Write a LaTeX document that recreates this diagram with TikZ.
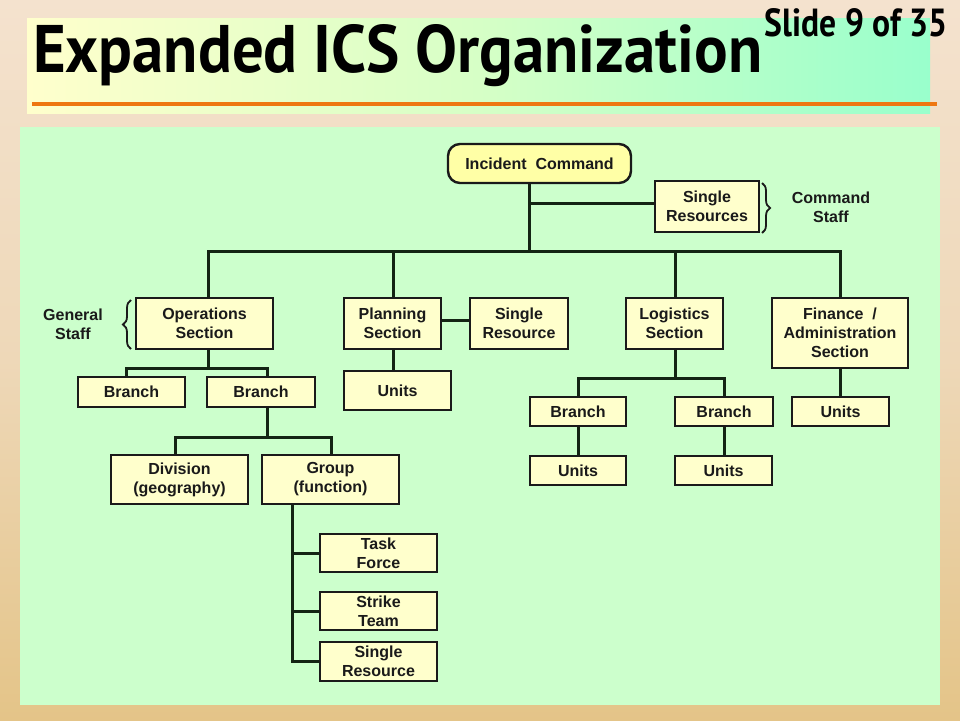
\documentclass[tikz,border=0pt]{standalone}
\usepackage{fontspec}
\setmainfont{Liberation Sans}
\newfontfamily\titlefont{PT Sans}
\usetikzlibrary{decorations.pathreplacing}
\definecolor{boxyel}{HTML}{FFFFCC}
\definecolor{icyel}{HTML}{FFFFA6}
\definecolor{panel}{HTML}{CCFFCC}
\definecolor{ink}{HTML}{1A1A1A}
\definecolor{linecol}{HTML}{142414}
\definecolor{sandtop}{HTML}{F4E2CE}
\definecolor{sandmid}{HTML}{EED8B8}
\definecolor{sandlow}{HTML}{E4C488}
\definecolor{titleL}{HTML}{FFFFCC}
\definecolor{titleM}{HTML}{D6FFC6}
\definecolor{titleR}{HTML}{99FFCC}
\definecolor{orangeline}{HTML}{EE7711}
\begin{document}
\begin{tikzpicture}[x=1pt,y=-1pt,
  box/.style={draw=ink, line width=1.3pt, fill=boxyel, align=center, inner sep=0pt,
    text=ink, font=\bfseries\fontsize{16}{19}\selectfont},
  icbox/.style={box, fill=icyel, line width=2.4pt, rounded corners=12pt},
  lbl/.style={align=center, inner sep=0pt, text=ink, font=\bfseries\fontsize{16}{19}\selectfont},
  conn/.style={draw=linecol, line width=3pt},
  bracestyle/.style={draw=ink, line width=1.8pt, decorate, decoration={brace, amplitude=8pt}}]
\useasboundingbox (0,0) rectangle (960,720);
% background
\fill[top color=sandtop, bottom color=sandlow, middle color=sandmid] (0,0) rectangle (960,720);
% title block
\fill[left color=titleL, right color=titleR, middle color=titleM] (27,18) rectangle (930,113);
\draw[orangeline, line width=3.5pt] (32,104) -- (937,104);
\node[anchor=base west, inner sep=0pt] (title) at (33,72)
  {\resizebox{729pt}{48pt}{\titlefont\bfseries Expanded ICS Organization}};
\node[anchor=base east, inner sep=0pt] (slide) at (948,36)
  {\resizebox{183pt}{28pt}{\titlefont\bfseries Slide 9 of 35}};
% panel
\fill[panel] (20,127) rectangle (940,705);
% nodes
\node[icbox, minimum width=183pt, minimum height=39pt] (ic) at (539.5,163.5) {Incident\ \ Command};
\node[box, minimum width=104pt, minimum height=51pt] (sr) at (707,206.5) {Single\\Resources};
\node[box, minimum width=137pt, minimum height=51pt] (ops) at (204.5,323.5) {Operations\\Section};
\node[box, minimum width=97pt, minimum height=51pt] (plan) at (392.5,323.5) {Planning\\Section};
\node[box, minimum width=98pt, minimum height=51pt] (psr) at (519,323.5) {Single\\Resource};
\node[box, minimum width=97pt, minimum height=51pt] (log) at (674.5,323.5) {Logistics\\Section};
\node[box, minimum width=136pt, minimum height=70pt] (fin) at (840,333) {Finance\ \ /\\Administration\\Section};
\node[box, minimum width=107pt, minimum height=30pt] (ob1) at (131.5,392) {Branch};
\node[box, minimum width=108pt, minimum height=30pt] (ob2) at (261,392) {Branch};
\node[box, minimum width=107pt, minimum height=39pt] (pu) at (397.5,390.5) {Units};
\node[box, minimum width=96pt, minimum height=29pt] (lb1) at (578,411.5) {Branch};
\node[box, minimum width=98pt, minimum height=29pt] (lb2) at (724,411.5) {Branch};
\node[box, minimum width=97pt, minimum height=29pt] (fu) at (840.5,411.5) {Units};
\node[box, minimum width=96pt, minimum height=29pt] (lu1) at (578,470.5) {Units};
\node[box, minimum width=97pt, minimum height=29pt] (lu2) at (723.5,470.5) {Units};
\node[box, minimum width=137pt, minimum height=49pt] (div) at (179.5,479.5) {Division\\(geography)};
\node[box, minimum width=137pt, minimum height=49pt] (grp) at (330.5,479.5) {Group\\(function)};
\node[box, minimum width=117pt, minimum height=38pt] (tf) at (378.5,553) {Task\\Force};
\node[box, minimum width=117pt, minimum height=38pt] (st) at (378.5,611) {Strike\\Team};
\node[box, minimum width=117pt, minimum height=39pt] (gsr) at (378.5,661.5) {Single\\Resource};
% labels
\node[lbl] (gs) at (73,324) {General\\Staff};
\node[lbl] (cs) at (831,207) {Command\\Staff};
\draw[bracestyle] (131,349) -- (131,300);
\draw[bracestyle] (762,183) -- (762,233);
% connectors
\coordinate (icj) at (529,251);
\coordinate (srj) at (529,203);
\draw[conn] (ic.south -| icj) -- (icj);
\draw[conn] (srj) -- (sr.west |- srj);
\coordinate (bL) at (208,251);
\coordinate (bR) at (840,251);
\coordinate (bP) at (393,251);
\coordinate (bG) at (675,251);
\draw[conn] (ops.north -| bL) -- (bL) -- (bR) -- (fin.north -| bR);
\draw[conn] (bP) -- (plan.north -| bP);
\draw[conn] (bG) -- (log.north -| bG);
\coordinate (pj) at (441,320);
\draw[conn] (plan.east |- pj) -- (psr.west |- pj);
\draw[conn] (plan.south -| bP) -- (pu.north -| bP);
% operations branches
\coordinate (oj) at (208,368);
\coordinate (oj1) at (126,368);
\coordinate (oj2) at (267,368);
\draw[conn] (ops.south -| oj) -- (oj);
\draw[conn] (ob1.north -| oj1) -- (oj1) -- (oj2) -- (ob2.north -| oj2);
% division / group
\coordinate (dj) at (267,437);
\coordinate (dj1) at (175,437);
\coordinate (dj2) at (331,437);
\draw[conn] (ob2.south -| dj) -- (dj);
\draw[conn] (div.north -| dj1) -- (dj1) -- (dj2) -- (grp.north -| dj2);
% group resources
\coordinate (gj) at (292,560);
\draw[conn] (grp.south -| gj) |- (gsr.west);
\draw[conn] (tf.west) -- (tf.west -| gj);
\draw[conn] (st.west) -- (st.west -| gj);
% logistics
\coordinate (lj) at (675,378);
\coordinate (lj1) at (578,378);
\coordinate (lj2) at (724,378);
\draw[conn] (log.south -| lj) -- (lj);
\draw[conn] (lb1.north -| lj1) -- (lj1) -- (lj2) -- (lb2.north -| lj2);
\draw[conn] (lb1.south) -- (lu1.north);
\draw[conn] (lb2.south) -- (lb2.south |- lu2.north);
% finance
\draw[conn] (fin.south) -- (fin.south |- fu.north);
\end{tikzpicture}
\end{document}
